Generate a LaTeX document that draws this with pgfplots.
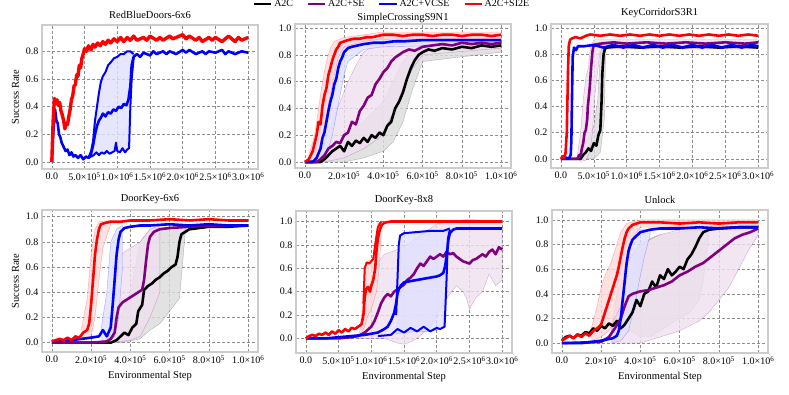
\documentclass[border=0pt]{standalone}
\usepackage{fontspec}
\setmainfont{Liberation Serif}
\usepackage{pgfplots}
\pgfplotsset{compat=1.18}
\definecolor{sepurple}{RGB}{128,0,128}

\tikzset{
  bk/.style={black, line width=2.6pt, line join=round},
  pp/.style={sepurple, line width=2.6pt, line join=round},
  bl/.style={blue, line width=2.6pt, line join=round},
  rd/.style={red, line width=2.6pt, line join=round},
  bkb/.style={fill=black!14, fill opacity=0.8, draw=black, draw opacity=0.25, line width=0.4pt},
  ppb/.style={fill=sepurple!12, fill opacity=0.8, draw=sepurple, draw opacity=0.3, line width=0.4pt},
  blb/.style={fill=blue!12, fill opacity=0.8, draw=blue, draw opacity=0.3, line width=0.4pt},
  rdb/.style={fill=red!15, fill opacity=0.8, draw=red, draw opacity=0.3, line width=0.4pt},
}
\pgfplotsset{
  panel/.style={
    scale only axis, width=216pt, height=144pt,
    axis line style={draw=black!20, line width=1.3pt},
    grid=major, major grid style={black!45, dash pattern=on 3pt off 2pt, line width=0.5pt},
    tick style={draw=none},
    ticklabel style={font=\fontsize{10}{11}\selectfont},
    yticklabel style={/pgf/number format/fixed, /pgf/number format/precision=1,
      /pgf/number format/fixed zerofill, /pgf/number format/assume math mode=true},
    ytick={0,0.2,0.4,0.6,0.8,1.0},
    title style={font=\fontsize{10.5}{12}\selectfont, yshift=-3pt},
    label style={font=\fontsize{10.5}{12}\selectfont},
    anchor=north west,
  },
  big/.style={xmin=-0.15, xmax=3.15, xtick={0,0.5,1,1.5,2,2.5,3},
    xticklabels={0.0, 5.0×10\textsuperscript{5}, 1.0×10\textsuperscript{6}, 1.5×10\textsuperscript{6},
      2.0×10\textsuperscript{6}, 2.5×10\textsuperscript{6}, 3.0×10\textsuperscript{6}}},
  small/.style={xmin=-0.05, xmax=1.05, xtick={0,0.2,0.4,0.6,0.8,1},
    xticklabels={0.0, 2.0×10\textsuperscript{5}, 4.0×10\textsuperscript{5}, 6.0×10\textsuperscript{5},
      8.0×10\textsuperscript{5}, 1.0×10\textsuperscript{6}}},
}

\begin{document}
\begin{tikzpicture}
\useasboundingbox (0,0) rectangle (789pt,-395pt);

% ---- RedBlueDoors-6x6
\begin{axis}[panel, big, at={(42pt,-25pt)}, ymin=-0.05, ymax=0.99,
  title={RedBlueDoors-6x6}, ylabel={Success Rate}]
\addplot[blb] coordinates {(0.56,0.03)(0.6,0.08)(0.63,0.15)(0.66,0.3)(0.69,0.4)(0.72,0.5)(0.75,0.58)(0.78,0.62)(0.82,0.65)(0.86,0.7)(0.9,0.72)(0.95,0.75)(1.0,0.76)(1.05,0.78)(1.1,0.78)(1.15,0.8)(1.2,0.8)(1.25,0.78)
  (1.25,0.75)(1.22,0.6)(1.2,0.4)(1.18,0.1)(1.15,0.09)(1.12,0.07)(1.08,0.1)(1.04,0.07)(1.0,0.08)(0.98,0.14)(0.96,0.08)(0.92,0.07)(0.88,0.06)(0.84,0.08)(0.8,0.06)(0.76,0.07)(0.72,0.05)(0.68,0.07)(0.64,0.05)(0.6,0.04)};
\addplot[bl, line width=2pt] coordinates {(0.56,0.03)(0.6,0.08)(0.63,0.15)(0.66,0.3)(0.69,0.4)(0.72,0.5)(0.75,0.58)(0.78,0.62)(0.82,0.65)(0.86,0.7)(0.9,0.72)(0.95,0.75)(1.0,0.76)(1.05,0.78)(1.1,0.78)(1.15,0.8)(1.2,0.8)(1.25,0.78)};
\addplot[bl, line width=2pt] coordinates {(0.56,0.03)(0.6,0.04)(0.64,0.05)(0.68,0.07)(0.72,0.05)(0.76,0.07)(0.8,0.06)(0.84,0.08)(0.88,0.06)(0.92,0.07)(0.96,0.08)(0.98,0.14)(1.0,0.08)(1.04,0.07)(1.08,0.1)(1.12,0.07)(1.15,0.09)(1.18,0.1)(1.2,0.4)(1.22,0.6)(1.25,0.75)};
\addplot[bl] coordinates {(0,0)(0.02,0.2)(0.05,0.38)(0.07,0.3)(0.09,0.28)(0.11,0.2)(0.13,0.18)(0.15,0.14)(0.17,0.12)(0.19,0.1)(0.21,0.08)(0.24,0.09)(0.27,0.05)(0.3,0.07)(0.33,0.04)(0.36,0.05)(0.4,0.03)(0.44,0.05)(0.48,0.02)(0.52,0.04)(0.56,0.03)(0.6,0.06)(0.63,0.12)(0.66,0.2)(0.69,0.26)(0.72,0.3)(0.75,0.32)(0.78,0.35)(0.82,0.33)(0.86,0.36)(0.9,0.35)(0.94,0.38)(0.98,0.37)(1.02,0.4)(1.06,0.39)(1.1,0.42)(1.14,0.41)(1.17,0.45)(1.2,0.55)(1.22,0.7)(1.25,0.76)(1.3,0.78)(1.35,0.76)(1.4,0.79)(1.5,0.77)(1.55,0.8)(1.6,0.78)(1.7,0.8)(1.75,0.78)(1.8,0.8)(1.9,0.78)(2.0,0.81)(2.05,0.79)(2.1,0.81)(2.2,0.78)(2.3,0.8)(2.35,0.78)(2.4,0.8)(2.5,0.79)(2.6,0.81)(2.65,0.78)(2.7,0.8)(2.8,0.78)(2.9,0.8)(3.0,0.79)};
\addplot[rd, line width=3.4pt] coordinates {(0,0)(0.02,0.3)(0.04,0.46)(0.06,0.42)(0.08,0.45)(0.1,0.41)(0.12,0.43)(0.14,0.37)(0.16,0.34)(0.18,0.3)(0.2,0.24)(0.22,0.28)(0.24,0.27)(0.26,0.33)(0.28,0.38)(0.3,0.45)(0.32,0.48)(0.34,0.55)(0.36,0.56)(0.38,0.63)(0.4,0.62)(0.42,0.7)(0.44,0.68)(0.46,0.75)(0.48,0.78)(0.5,0.82)(0.53,0.8)(0.56,0.84)(0.6,0.81)(0.63,0.85)(0.66,0.83)(0.7,0.86)(0.74,0.84)(0.78,0.87)(0.82,0.85)(0.86,0.88)(0.9,0.86)(0.95,0.89)(1.0,0.87)(1.05,0.9)(1.1,0.87)(1.15,0.9)(1.2,0.88)(1.25,0.91)(1.3,0.88)(1.4,0.9)(1.45,0.88)(1.5,0.91)(1.6,0.88)(1.65,0.9)(1.7,0.88)(1.8,0.91)(1.85,0.89)(1.9,0.9)(2.0,0.92)(2.05,0.89)(2.1,0.91)(2.2,0.88)(2.25,0.9)(2.3,0.87)(2.4,0.9)(2.45,0.88)(2.5,0.9)(2.6,0.87)(2.65,0.89)(2.7,0.91)(2.8,0.87)(2.85,0.9)(2.9,0.88)(3.0,0.9)};
\end{axis}

% ---- SimpleCrossingS9N1
\begin{axis}[panel, small, at={(295pt,-24pt)}, ymin=-0.045, ymax=1.03,
  title={SimpleCrossingS9N1}, title style={yshift=-5pt},
  legend style={draw=none, fill=none, legend columns=4, at={(0.45,1.14)}, anchor=center,
    font=\fontsize{10}{11}\selectfont, /tikz/every even column/.append style={column sep=12pt}}]
\addlegendimage{black, line width=2pt}
\addlegendimage{sepurple, line width=2pt}
\addlegendimage{blue, line width=2pt}
\addlegendimage{red, line width=2pt}
\addplot[bkb] coordinates {(0.08,0.02)(0.2,0.2)(0.3,0.3)(0.4,0.45)(0.45,0.6)(0.5,0.75)(0.55,0.84)(0.6,0.87)(1.0,0.9)(1.0,0.82)(0.6,0.75)(0.55,0.55)(0.5,0.3)(0.45,0.15)(0.4,0.08)(0.3,0.03)(0.2,0)(0.08,0)};
\addplot[ppb] coordinates {(0.06,0.02)(0.1,0.15)(0.14,0.3)(0.18,0.45)(0.22,0.6)(0.26,0.72)(0.3,0.82)(0.34,0.86)(0.4,0.88)(0.5,0.9)(1.0,0.92)(1.0,0.85)(0.6,0.8)(0.55,0.7)(0.5,0.55)(0.46,0.4)(0.42,0.28)(0.38,0.18)(0.3,0.1)(0.2,0.03)(0.1,0)(0.06,0)};
\addplot[blb] coordinates {(0.05,0.05)(0.08,0.25)(0.1,0.45)(0.12,0.6)(0.14,0.75)(0.17,0.85)(0.2,0.89)(0.3,0.91)(1.0,0.93)(1.0,0.88)(0.4,0.86)(0.3,0.84)(0.22,0.75)(0.2,0.65)(0.18,0.5)(0.16,0.35)(0.14,0.2)(0.12,0.1)(0.1,0.02)(0.05,0)};
\addplot[rdb] coordinates {(0.02,0.05)(0.05,0.2)(0.07,0.4)(0.09,0.6)(0.11,0.75)(0.13,0.85)(0.15,0.9)(0.2,0.93)(0.3,0.95)(0.4,0.97)(1.0,0.97)(1.0,0.92)(0.4,0.92)(0.3,0.9)(0.2,0.86)(0.17,0.78)(0.15,0.65)(0.13,0.5)(0.11,0.35)(0.09,0.2)(0.07,0.08)(0.05,0.02)(0.02,0)};
\addplot[bk] coordinates {(0,0)(0.08,0)(0.1,0.02)(0.12,0.05)(0.14,0.08)(0.16,0.1)(0.18,0.12)(0.2,0.08)(0.22,0.15)(0.24,0.12)(0.26,0.16)(0.28,0.14)(0.3,0.18)(0.32,0.15)(0.34,0.2)(0.36,0.18)(0.38,0.22)(0.4,0.2)(0.42,0.27)(0.44,0.3)(0.46,0.4)(0.48,0.45)(0.5,0.52)(0.52,0.62)(0.54,0.7)(0.56,0.76)(0.58,0.8)(0.6,0.82)(0.63,0.84)(0.66,0.83)(0.7,0.85)(0.75,0.84)(0.8,0.86)(0.85,0.85)(0.9,0.87)(0.95,0.86)(1.0,0.87)};
\addplot[pp] coordinates {(0,0)(0.06,0)(0.08,0.02)(0.1,0.05)(0.12,0.1)(0.14,0.12)(0.16,0.15)(0.18,0.14)(0.2,0.2)(0.22,0.22)(0.24,0.3)(0.26,0.28)(0.28,0.38)(0.3,0.42)(0.32,0.48)(0.34,0.5)(0.36,0.58)(0.38,0.62)(0.4,0.67)(0.42,0.7)(0.44,0.75)(0.46,0.78)(0.48,0.8)(0.5,0.82)(0.53,0.84)(0.56,0.83)(0.6,0.86)(0.65,0.87)(0.7,0.88)(0.75,0.87)(0.8,0.89)(0.85,0.88)(0.9,0.89)(0.95,0.88)(1.0,0.89)};
\addplot[bl] coordinates {(0,0)(0.04,0)(0.06,0.03)(0.08,0.1)(0.09,0.18)(0.1,0.22)(0.11,0.3)(0.12,0.38)(0.13,0.45)(0.14,0.5)(0.15,0.58)(0.16,0.62)(0.17,0.7)(0.18,0.75)(0.19,0.78)(0.2,0.82)(0.22,0.85)(0.24,0.86)(0.27,0.87)(0.3,0.88)(0.35,0.89)(0.4,0.89)(0.45,0.9)(0.5,0.9)(0.6,0.91)(0.7,0.91)(0.8,0.91)(0.9,0.91)(1.0,0.91)};
\addplot[rd] coordinates {(0,0)(0.02,0.02)(0.04,0.08)(0.06,0.2)(0.07,0.3)(0.08,0.28)(0.09,0.42)(0.1,0.5)(0.11,0.55)(0.12,0.65)(0.13,0.7)(0.14,0.76)(0.15,0.8)(0.16,0.84)(0.17,0.86)(0.18,0.89)(0.2,0.9)(0.22,0.91)(0.25,0.92)(0.28,0.92)(0.31,0.93)(0.34,0.93)(0.37,0.94)(0.4,0.95)(0.45,0.95)(0.5,0.94)(0.55,0.95)(0.6,0.95)(0.65,0.94)(0.7,0.95)(0.75,0.95)(0.8,0.94)(0.85,0.95)(0.9,0.95)(0.95,0.94)(1.0,0.95)};
\legend{A2C,A2C+SE,A2C+VCSE,A2C+SI2E}
\end{axis}

% ---- KeyCorridorS3R1
\begin{axis}[panel, big, at={(551pt,-24pt)}, width=217pt, ymin=-0.07, ymax=1.03,
  title={KeyCorridorS3R1}]
\addplot[bkb] coordinates {(0.3,0.02)(0.4,0.15)(0.5,0.25)(0.56,0.45)(0.6,0.8)(0.63,0.87)(3.0,0.87)(3.0,0.84)(0.68,0.84)(0.66,0.3)(0.6,0.05)(0.5,0)(0.3,0)};
\addplot[ppb] coordinates {(0.25,0.02)(0.3,0.2)(0.34,0.45)(0.38,0.62)(0.42,0.7)(0.45,0.85)(0.5,0.91)(3.0,0.91)(3.0,0.84)(0.6,0.84)(0.52,0.5)(0.48,0.2)(0.44,0.05)(0.38,-0.01)(0.3,-0.02)(0.25,0)};
\addplot[bk] coordinates {(0,0)(0.3,0)(0.34,0.03)(0.38,0.05)(0.42,0.08)(0.46,0.06)(0.5,0.12)(0.54,0.1)(0.57,0.18)(0.6,0.22)(0.62,0.45)(0.63,0.65)(0.65,0.8)(0.67,0.84)(0.7,0.85)(0.9,0.86)(1.2,0.85)(1.5,0.86)(1.8,0.85)(2.1,0.86)(2.4,0.85)(2.7,0.86)(3.0,0.85)};
\addplot[pp] coordinates {(0,0)(0.25,0)(0.28,0.03)(0.3,0.02)(0.32,0.08)(0.34,0.12)(0.36,0.2)(0.38,0.22)(0.4,0.3)(0.41,0.4)(0.43,0.5)(0.44,0.55)(0.46,0.7)(0.48,0.82)(0.5,0.87)(0.6,0.88)(0.8,0.89)(1.0,0.88)(1.3,0.89)(1.6,0.88)(1.9,0.89)(2.2,0.88)(2.5,0.89)(2.8,0.88)(3.0,0.89)};
\addplot[bl] coordinates {(0,0)(0.08,0.01)(0.12,0)(0.15,0.03)(0.16,0.15)(0.17,0.5)(0.18,0.78)(0.2,0.85)(0.23,0.83)(0.26,0.86)(0.35,0.86)(0.5,0.87)(0.65,0.85)(0.8,0.87)(0.95,0.85)(1.1,0.87)(1.25,0.85)(1.4,0.87)(1.55,0.85)(1.7,0.87)(1.85,0.85)(2.0,0.87)(2.15,0.85)(2.3,0.87)(2.45,0.85)(2.6,0.87)(2.75,0.85)(2.9,0.87)(3.0,0.86)};
\addplot[rd] coordinates {(0,0)(0.03,0.02)(0.05,0.01)(0.07,0.04)(0.09,0.2)(0.1,0.45)(0.11,0.7)(0.12,0.86)(0.14,0.91)(0.17,0.92)(0.22,0.93)(0.3,0.92)(0.38,0.94)(0.45,0.95)(0.6,0.94)(0.75,0.95)(0.9,0.94)(1.05,0.95)(1.2,0.94)(1.35,0.95)(1.5,0.94)(1.65,0.95)(1.8,0.94)(1.95,0.95)(2.1,0.94)(2.25,0.95)(2.4,0.94)(2.55,0.95)(2.7,0.94)(2.85,0.95)(3.0,0.94)};
\end{axis}

% ---- DoorKey-6x6
\begin{axis}[panel, small, at={(42pt,-210pt)}, height=142pt, ymin=-0.074, ymax=1.053,
  title={DoorKey-6x6}, ylabel={Success Rate}, xlabel={Environmental Step}]
\addplot[bkb] coordinates {(0.3,0.02)(0.4,0.4)(0.45,0.8)(0.5,0.9)(0.6,0.92)(0.68,0.92)(0.68,0.88)(0.65,0.35)(0.6,0.25)(0.55,0.15)(0.5,0.1)(0.45,0.03)(0.35,0)(0.3,0)};
\addplot[ppb] coordinates {(0.28,0.02)(0.32,0.4)(0.35,0.7)(0.4,0.75)(0.45,0.8)(0.5,0.9)(0.55,0.93)(0.55,0.4)(0.5,0.2)(0.45,0.05)(0.4,0.02)(0.3,0)(0.28,0)};
\addplot[blb] coordinates {(0.25,0.1)(0.28,0.4)(0.3,0.8)(0.33,0.9)(0.36,0.93)(0.36,0.6)(0.34,0.2)(0.32,0.05)(0.3,0.02)(0.25,0.02)};
\addplot[rdb] coordinates {(0.15,0.1)(0.18,0.35)(0.2,0.7)(0.22,0.9)(0.24,0.96)(0.3,0.97)(0.3,0.94)(0.26,0.75)(0.24,0.5)(0.22,0.2)(0.2,0.05)(0.15,0.02)};
\addplot[bk] coordinates {(0,0)(0.3,0)(0.33,0.02)(0.35,0.05)(0.37,0.08)(0.39,0.06)(0.41,0.12)(0.43,0.15)(0.44,0.25)(0.46,0.3)(0.47,0.42)(0.49,0.45)(0.51,0.47)(0.53,0.5)(0.55,0.52)(0.57,0.55)(0.59,0.57)(0.61,0.6)(0.63,0.62)(0.64,0.68)(0.65,0.8)(0.66,0.86)(0.68,0.88)(0.7,0.9)(0.75,0.91)(0.8,0.92)(0.9,0.92)(1.0,0.93)};
\addplot[pp] coordinates {(0,0)(0.2,0)(0.28,0.01)(0.3,0.03)(0.32,0.08)(0.33,0.2)(0.34,0.28)(0.36,0.32)(0.38,0.34)(0.4,0.36)(0.42,0.38)(0.44,0.4)(0.46,0.42)(0.47,0.5)(0.48,0.65)(0.49,0.78)(0.5,0.84)(0.52,0.88)(0.55,0.9)(0.6,0.91)(0.7,0.92)(0.8,0.93)(1.0,0.93)};
\addplot[bl] coordinates {(0,0.01)(0.05,0.02)(0.1,0.02)(0.15,0.03)(0.2,0.04)(0.24,0.05)(0.26,0.1)(0.28,0.05)(0.3,0.12)(0.31,0.3)(0.32,0.5)(0.33,0.7)(0.34,0.82)(0.35,0.88)(0.37,0.91)(0.4,0.92)(0.45,0.93)(0.5,0.93)(0.6,0.94)(0.7,0.93)(0.8,0.94)(0.9,0.93)(1.0,0.93)};
\addplot[rd] coordinates {(0,0.01)(0.02,0.02)(0.04,0.03)(0.06,0.02)(0.08,0.04)(0.1,0.02)(0.12,0.05)(0.14,0.04)(0.16,0.08)(0.18,0.1)(0.19,0.15)(0.2,0.3)(0.21,0.5)(0.22,0.7)(0.23,0.82)(0.24,0.9)(0.25,0.94)(0.27,0.95)(0.3,0.96)(0.35,0.96)(0.4,0.97)(0.5,0.97)(0.6,0.98)(0.7,0.97)(0.8,0.98)(0.9,0.97)(1.0,0.97)};
\end{axis}

% ---- DoorKey-8x8
\begin{axis}[panel, big, at={(296pt,-211pt)}, height=142pt, ymin=-0.125, ymax=1.09,
  title={DoorKey-8x8}, xlabel={Environmental Step}]
\addplot[ppb] coordinates {(0.8,0.02)(0.9,0.2)(1.0,0.5)(1.1,0.65)(1.2,0.72)(1.4,0.76)(1.6,0.82)(1.8,0.9)(2.0,0.98)(2.2,1.0)(2.5,1.02)(2.8,1.0)(3.0,1.0)(3.0,0.5)(2.9,0.45)(2.8,0.55)(2.7,0.4)(2.6,0.35)(2.5,0.25)(2.45,0.35)(2.4,0.4)(2.3,0.45)(2.2,0.38)(2.1,0.3)(2.0,0.2)(1.9,0.1)(1.8,0.05)(1.7,0.0)(1.6,-0.03)(1.5,-0.05)(1.4,-0.04)(1.2,0.0)(1.0,0)(0.8,0)};
\addplot[blb] coordinates {(1.38,0.2)(1.4,0.5)(1.42,0.8)(1.44,0.88)(1.5,0.9)(1.7,0.91)(1.9,0.92)(2.1,0.92)(2.2,0.94)(2.2,0.93)(2.17,0.85)(2.15,0.5)(2.12,0.1)(2.05,0.08)(1.9,0.06)(1.7,0.06)(1.5,0.05)(1.38,0.04)};
\addplot[rdb] coordinates {(0.85,0.15)(0.88,0.4)(0.9,0.62)(0.95,0.66)(1.0,0.67)(1.03,0.7)(1.06,0.85)(1.1,0.98)(1.15,1.0)(1.15,0.85)(1.12,0.6)(1.08,0.4)(1.0,0.25)(0.95,0.2)(0.9,0.1)(0.85,0.05)};
\addplot[pp] coordinates {(0,0)(0.5,0)(0.7,0.01)(0.8,0.02)(0.9,0.05)(1.0,0.1)(1.05,0.15)(1.1,0.22)(1.15,0.3)(1.2,0.35)(1.25,0.38)(1.3,0.36)(1.35,0.4)(1.4,0.42)(1.45,0.44)(1.5,0.46)(1.55,0.5)(1.6,0.52)(1.65,0.55)(1.7,0.6)(1.75,0.64)(1.8,0.62)(1.85,0.66)(1.9,0.7)(1.95,0.68)(2.0,0.7)(2.05,0.72)(2.1,0.7)(2.15,0.74)(2.2,0.72)(2.25,0.73)(2.3,0.7)(2.4,0.66)(2.5,0.64)(2.55,0.67)(2.6,0.68)(2.65,0.7)(2.7,0.72)(2.75,0.7)(2.8,0.74)(2.85,0.76)(2.9,0.72)(2.95,0.78)(3.0,0.76)};
\addplot[bl, line width=2pt] coordinates {(1.38,0.2)(1.4,0.5)(1.42,0.8)(1.44,0.88)(1.5,0.9)(1.7,0.91)(1.9,0.92)(2.1,0.92)(2.2,0.94)};
\addplot[bl, line width=2pt] coordinates {(1.1,0.02)(1.3,0.03)(1.4,0.08)(1.5,0.05)(1.6,0.09)(1.7,0.06)(1.8,0.1)(1.9,0.06)(2.0,0.09)(2.05,0.08)(2.12,0.1)(2.15,0.5)(2.17,0.85)(2.2,0.93)};
\addplot[bl] coordinates {(0,0)(0.3,0)(0.5,0.01)(0.7,0.02)(0.9,0.03)(1.0,0.04)(1.1,0.05)(1.2,0.08)(1.25,0.1)(1.3,0.15)(1.35,0.22)(1.38,0.3)(1.4,0.38)(1.42,0.42)(1.45,0.45)(1.5,0.48)(1.6,0.49)(1.7,0.5)(1.8,0.51)(1.9,0.52)(2.0,0.53)(2.05,0.54)(2.1,0.56)(2.13,0.62)(2.16,0.75)(2.18,0.85)(2.2,0.9)(2.25,0.93)(2.3,0.94)(2.5,0.94)(3.0,0.94)};
\addplot[rd, line width=2pt] coordinates {(0.88,0.3)(0.9,0.6)(0.93,0.65)(0.97,0.64)(1.0,0.66)(1.03,0.68)(1.06,0.8)(1.1,0.95)(1.15,1.0)};
\addplot[rd] coordinates {(0,0)(0.05,0.02)(0.1,0.03)(0.15,0.02)(0.2,0.04)(0.25,0.03)(0.3,0.05)(0.35,0.03)(0.4,0.06)(0.45,0.04)(0.5,0.07)(0.55,0.05)(0.6,0.08)(0.65,0.06)(0.7,0.09)(0.75,0.08)(0.8,0.1)(0.85,0.12)(0.88,0.2)(0.9,0.35)(0.92,0.42)(0.95,0.44)(0.98,0.4)(1.0,0.45)(1.03,0.5)(1.06,0.6)(1.08,0.75)(1.1,0.85)(1.13,0.93)(1.16,0.97)(1.2,0.99)(1.3,1.0)(1.6,1.0)(2.0,1.0)(2.5,1.0)(3.0,1.0)};
\end{axis}

% ---- Unlock
\begin{axis}[panel, small, at={(552pt,-210pt)}, height=143pt, ymin=-0.08, ymax=1.08,
  title={Unlock}, xlabel={Environmental Step}]
\addplot[bkb] coordinates {(0.3,0.2)(0.35,0.5)(0.4,0.75)(0.45,0.85)(0.5,0.88)(0.6,0.9)(0.7,0.93)(0.75,0.93)(0.75,0.9)(0.72,0.5)(0.7,0.35)(0.65,0.25)(0.6,0.2)(0.55,0.15)(0.5,0.1)(0.45,0.05)(0.4,0.05)(0.35,0.1)(0.3,0.1)};
\addplot[ppb] coordinates {(0.25,0.1)(0.3,0.5)(0.35,0.7)(0.4,0.8)(0.5,0.88)(0.6,0.92)(0.7,0.95)(0.8,0.97)(1.0,0.95)(1.0,0.88)(0.95,0.75)(0.9,0.6)(0.85,0.45)(0.8,0.35)(0.75,0.25)(0.7,0.18)(0.6,0.1)(0.5,0.05)(0.4,0.0)(0.3,0)(0.25,0)};
\addplot[blb] coordinates {(0.25,0.05)(0.28,0.4)(0.3,0.7)(0.32,0.85)(0.35,0.92)(0.45,0.92)(0.45,0.88)(0.42,0.7)(0.4,0.55)(0.37,0.3)(0.34,0.1)(0.3,0.02)(0.25,0)};
\addplot[rdb] coordinates {(0.15,0.12)(0.18,0.3)(0.2,0.45)(0.22,0.55)(0.25,0.65)(0.28,0.8)(0.3,0.9)(0.33,0.97)(0.4,1.0)(1.0,1.0)(1.0,0.95)(0.4,0.94)(0.36,0.85)(0.33,0.6)(0.3,0.3)(0.27,0.2)(0.24,0.1)(0.2,0.05)(0.15,0.02)};
\addplot[bk] coordinates {(0,0.02)(0.02,0.05)(0.04,0.06)(0.06,0.04)(0.08,0.07)(0.1,0.06)(0.12,0.09)(0.14,0.08)(0.16,0.12)(0.18,0.1)(0.2,0.14)(0.22,0.12)(0.24,0.16)(0.26,0.14)(0.28,0.18)(0.3,0.12)(0.32,0.15)(0.34,0.2)(0.36,0.25)(0.38,0.35)(0.4,0.3)(0.42,0.4)(0.44,0.42)(0.46,0.5)(0.48,0.45)(0.5,0.55)(0.52,0.52)(0.54,0.6)(0.56,0.55)(0.58,0.58)(0.6,0.62)(0.62,0.6)(0.64,0.68)(0.66,0.72)(0.68,0.78)(0.7,0.85)(0.72,0.9)(0.75,0.92)(0.8,0.93)(0.9,0.94)(1.0,0.94)};
\addplot[pp] coordinates {(0,0)(0.2,0.01)(0.24,0.05)(0.27,0.12)(0.3,0.2)(0.32,0.3)(0.34,0.38)(0.36,0.4)(0.4,0.42)(0.44,0.43)(0.48,0.45)(0.52,0.47)(0.56,0.5)(0.6,0.55)(0.64,0.58)(0.68,0.62)(0.72,0.65)(0.76,0.7)(0.8,0.75)(0.84,0.8)(0.88,0.85)(0.92,0.88)(0.96,0.9)(1.0,0.93)};
\addplot[bl] coordinates {(0,0)(0.1,0)(0.15,0.01)(0.2,0.02)(0.23,0.03)(0.26,0.04)(0.28,0.06)(0.29,0.1)(0.3,0.2)(0.31,0.35)(0.32,0.5)(0.33,0.65)(0.34,0.75)(0.35,0.8)(0.36,0.84)(0.38,0.87)(0.4,0.9)(0.45,0.92)(0.5,0.93)(0.6,0.93)(0.7,0.94)(0.8,0.93)(0.9,0.94)(1.0,0.94)};
\addplot[rd] coordinates {(0,0.02)(0.02,0.04)(0.04,0.06)(0.06,0.04)(0.08,0.07)(0.1,0.05)(0.12,0.08)(0.14,0.06)(0.16,0.1)(0.18,0.12)(0.2,0.15)(0.21,0.2)(0.22,0.25)(0.23,0.3)(0.24,0.35)(0.25,0.4)(0.26,0.45)(0.27,0.5)(0.28,0.55)(0.29,0.62)(0.3,0.7)(0.31,0.78)(0.32,0.85)(0.33,0.9)(0.34,0.93)(0.36,0.96)(0.38,0.97)(0.4,0.98)(0.5,0.98)(0.6,0.97)(0.7,0.98)(0.8,0.97)(0.9,0.98)(1.0,0.98)};
\end{axis}
\end{tikzpicture}
\end{document}
